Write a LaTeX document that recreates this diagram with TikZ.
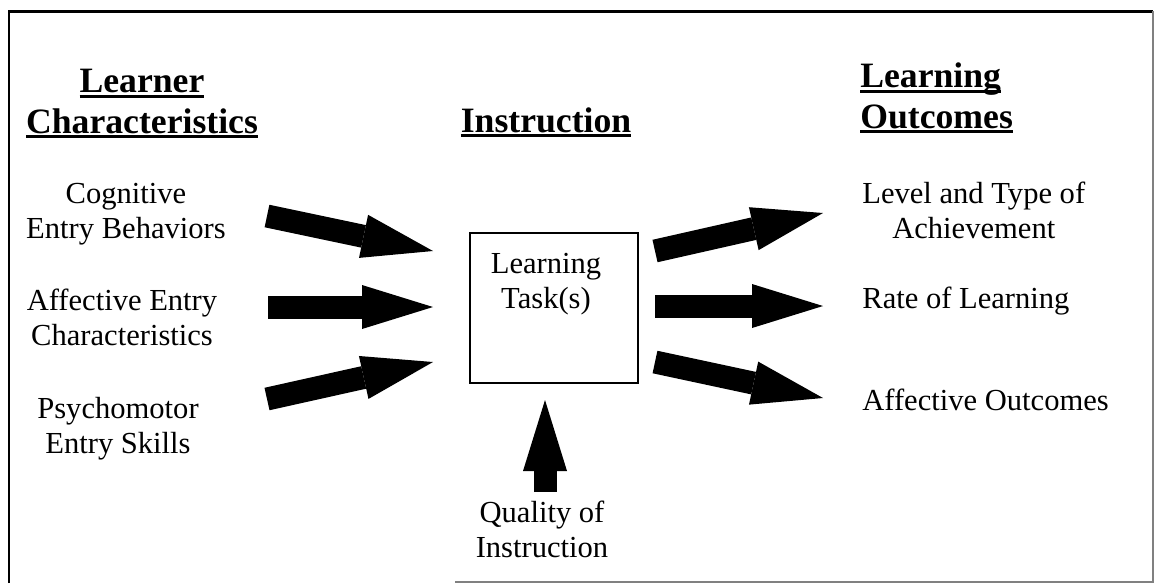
\documentclass[tikz,border=0pt]{standalone}
\usepackage{fontspec}
\setmainfont{Liberation Serif}
\usetikzlibrary{arrows.meta}
\newcommand{\ulword}[1]{\setbox0\hbox{#1}\rlap{\rule[-3.1pt]{\wd0}{1.7pt}}\box0}

\begin{document}
\begin{tikzpicture}[x=0.02cm, y=-0.02cm]
  \tikzset{title/.style = {font=\fontsize{20.3pt}{22.8pt}\selectfont\bfseries, inner sep=0pt, align=center},
           txt/.style = {font=\fontsize{17.4pt}{19.9pt}\selectfont, inner sep=0pt, align=center},
           taskbox/.style = {draw, line width=1.2pt, minimum width=3.36cm, minimum height=3cm, inner sep=0pt},
           bigarrow/.style = {line width=0.46cm, -{Triangle[length=1.42cm, width=0.88cm, line width=0pt]}}}
  \useasboundingbox (0,0) rectangle (1155,583);

  % frame
  \draw[line width=1.7pt] (9,583) -- (9,11) -- (1153,11);
  \draw[gray, line width=0.8pt] (1153,11) -- (1153,582) -- (455,582);

  % titles (base = last line)
  \node[title, anchor=base] (learner) at (142,133) {\ulword{Learner}\\\ulword{Characteristics}};
  \node[title, anchor=base] (instr) at (546,132) {\ulword{Instruction}};
  \node[title, anchor=base west, align=left] (outcomes) at (860,128) {\ulword{Learning}\\\ulword{Outcomes}};

  % nodes
  \node[txt, anchor=base] (cogn) at (126,238) {Cognitive\\Entry Behaviors};
  \node[txt, anchor=base] (affect) at (122,345) {Affective Entry\\Characteristics};
  \node[txt, anchor=base] (psycho) at (118,453) {Psychomotor\\Entry Skills};
  \node[taskbox] (task) at (554,308) {};
  \node[txt, anchor=base] (tasklbl) at (546,308) {Learning\\Task(s)};
  \node[txt, anchor=base] (quality) at (542,557) {Quality of\\Instruction};
  \node[txt, anchor=base west] (level) at (862,238) {Level and Type of\\Achievement};
  \node[txt, anchor=base west] (rate) at (862,308) {Rate of Learning};
  \node[txt, anchor=base west] (affout) at (862,410) {Affective Outcomes};

  % arrow ends
  \coordinate (in1) at (267,216);  \coordinate (in1t) at (433,251);
  \coordinate (in2) at (268,307);  \coordinate (in2t) at (433,307);
  \coordinate (in3) at (267,399);  \coordinate (in3t) at (433,362);
  \coordinate (out1) at (655,251); \coordinate (out1t) at (823,213);
  \coordinate (out2) at (655,306); \coordinate (out2t) at (823,306);
  \coordinate (out3) at (655,362); \coordinate (out3t) at (823,398);
  \coordinate (qual) at (545,492); \coordinate (qualt) at (545,400);

  % arrows
  \draw[bigarrow] (in1) -- (in1t);
  \draw[bigarrow] (in2) -- (in2t);
  \draw[bigarrow] (in3) -- (in3t);
  \draw[bigarrow] (out1) -- (out1t);
  \draw[bigarrow] (out2) -- (out2t);
  \draw[bigarrow] (out3) -- (out3t);
  \draw[bigarrow] (qual) -- (qualt);

\end{tikzpicture}
\end{document}
